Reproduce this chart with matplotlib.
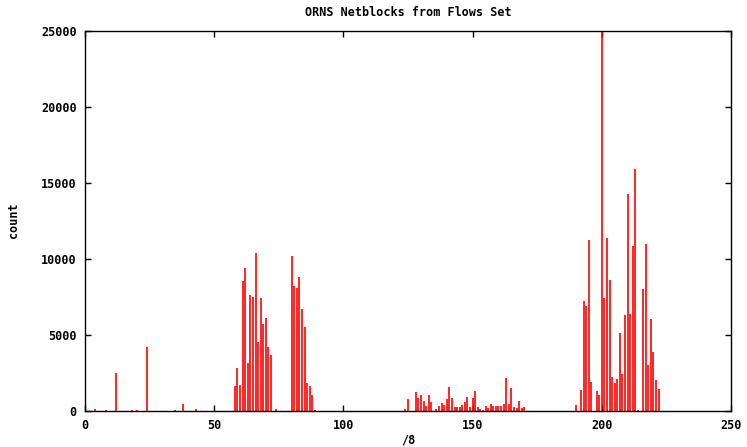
import numpy as np
import matplotlib
matplotlib.use("Agg")
import matplotlib.pyplot as plt

F = 8.5
FONT = "DejaVu Sans Mono"

# /8 netblock (first octet) and flow count
blocks = [4, 8, 12, 18, 20, 24, 35, 38, 43,
          58, 59, 60, 61, 62, 63, 64, 65, 66, 67, 68, 69, 70, 71, 72, 74,
          80, 81, 82, 83, 84, 85, 86, 87, 88, 89,
          124, 125, 128, 129, 130, 131, 132, 133, 134, 136, 137, 138, 139,
          140, 141, 142, 143, 144, 145, 146, 147, 148, 149, 150, 151, 152,
          153, 154, 155, 156, 157, 158, 159, 160, 161, 162, 163, 164, 165,
          166, 167, 168, 169, 170,
          190, 192, 193, 194, 195, 196, 198, 199, 200, 201, 202, 203, 204,
          205, 206, 207, 208, 209, 210, 211, 212, 213, 214, 216, 217, 218,
          219, 220, 221, 222]
counts = [130, 65, 2480, 60, 60, 4210, 60, 460, 130,
          1650, 2830, 1690, 8575, 9410, 3180, 7630, 7500, 10370, 4560, 7430,
          5750, 6120, 4190, 3680, 130,
          10200, 8245, 8115, 8795, 6730, 5505, 1820, 1645, 1075, 65,
          130, 790, 1250, 880, 1050, 680, 330, 1050, 615, 130, 310, 500, 395,
          790, 1555, 855, 240, 240, 240, 370, 615, 920, 240, 855, 1290, 240,
          110, 45, 310, 175, 440, 310, 310, 310, 310, 440, 2170, 480, 1490,
          240, 175, 680, 175, 240,
          370, 1380, 7230, 6920, 11240, 1880, 1315, 1050, 25000, 7420, 11410,
          8610, 2230, 1820, 2100, 5100, 2430, 6310, 14280, 6350, 10880, 15940,
          65, 8040, 10970, 3000, 6040, 3880, 2060, 1445]

xticks = [0, 50, 100, 150, 200, 250]
yticks = [0, 5000, 10000, 15000, 20000, 25000]

W, H = 747, 447
fig = plt.figure(figsize=(W/100, H/100), dpi=100)
ax = fig.add_axes([85/W, 36/H, 646/W, 380/H])

ax.vlines(blocks, 0, counts, colors='#ff0000', linewidth=1.2)

ax.set_xlim(0, 250)
ax.set_ylim(0, 25000)
ax.set_xticks(xticks)
ax.set_yticks(yticks)
ax.tick_params(direction='in', length=4, width=1, top=True, right=True,
               labelsize=F, pad=6)
for lab in ax.get_xticklabels() + ax.get_yticklabels():
    lab.set_family(FONT)
    lab.set_fontweight('bold')
for sp in ax.spines.values():
    sp.set_linewidth(1)

txt = dict(fontsize=F, family=FONT, fontweight='bold', ha='center', va='center')
fig.text(408/W, 1 - 440/H, '/8', **txt)
fig.text(14/W, 1 - 220/H, 'count', rotation=90, **txt)
fig.text(408/W, 1 - 12/H, 'ORNS Netblocks from Flows Set', **txt)

plt.savefig('out.png', dpi=100)
